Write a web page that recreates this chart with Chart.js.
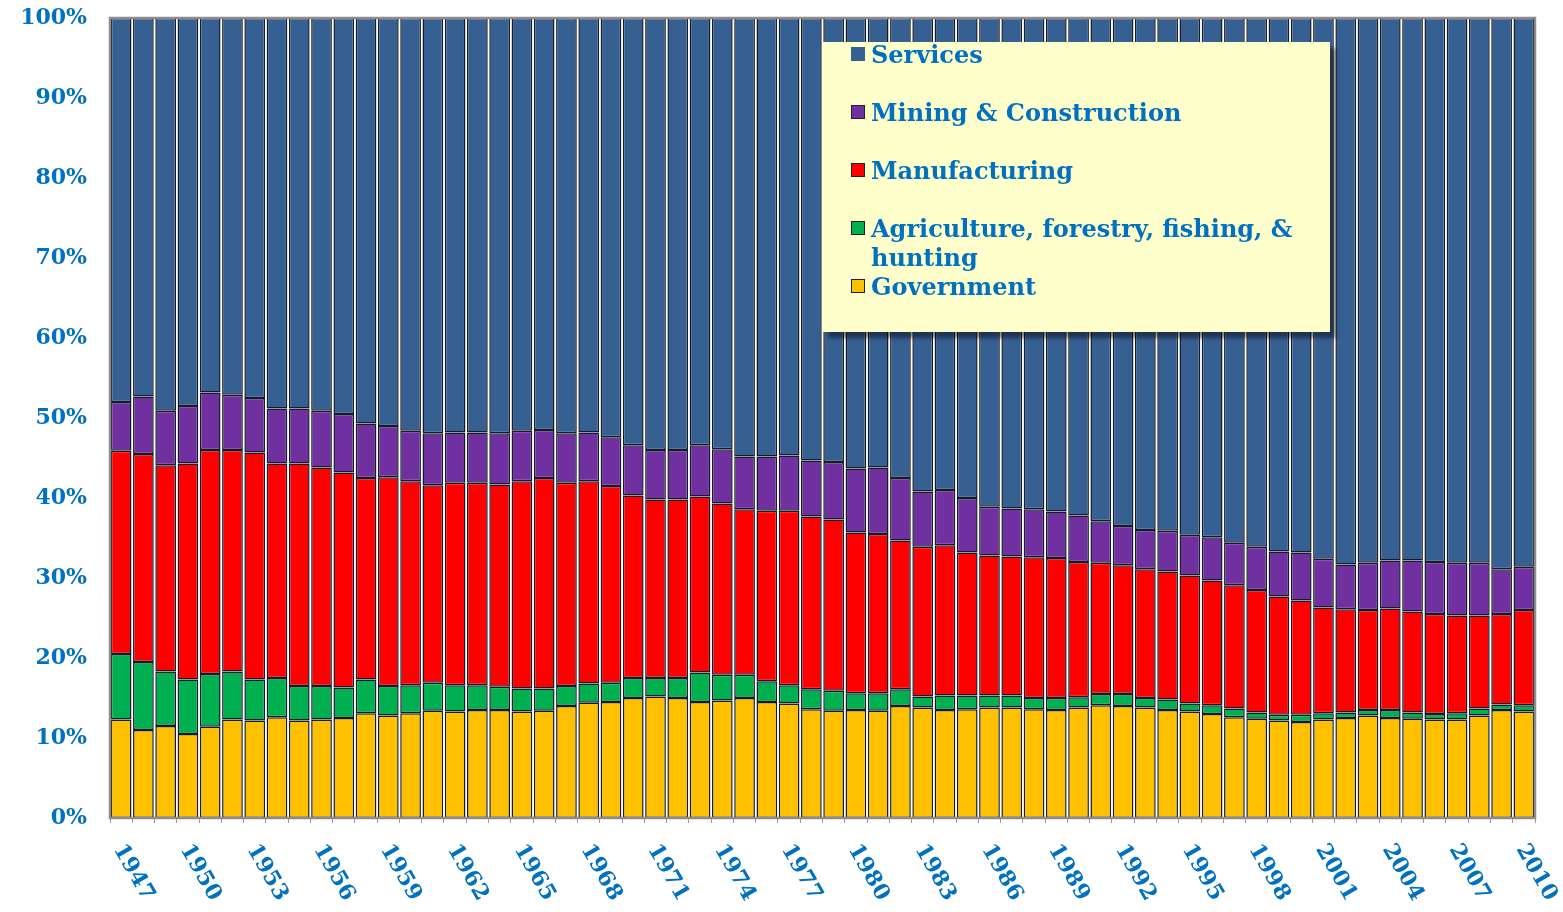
<!DOCTYPE html>
<html>
<head>
<meta charset="utf-8">
<script src="https://cdn.jsdelivr.net/npm/chart.js@4"></script>
<style>
body { margin: 0; background: #fff; }
#wrap { position: relative; width: 1563px; height: 912px; }
#legendBox {
    position: absolute; left: 822px; top: 42px; width: 508px; height: 290px;
    background: #FFFFCC; box-shadow: 6px 6px 4px rgba(0, 0, 0, 0.45);
    font: bold 24px 'DejaVu Serif', serif; color: #0070C0; line-height: 29px;
}
.item { position: absolute; left: 49px; white-space: nowrap; }
.mark { position: absolute; left: -20px; top: 7px; width: 12px; height: 12px; border: 1px solid #222; }
</style>
</head>
<body>
<div id="wrap">
    <canvas id="myChart" width="1563" height="912"></canvas>
    <div id="legendBox"></div>
</div>
<script>
const years = ['1947','1948','1949','1950','1951','1952','1953','1954','1955','1956',
    '1957','1958','1959','1960','1961','1962','1963','1964','1965','1966',
    '1967','1968','1969','1970','1971','1972','1973','1974','1975','1976',
    '1977','1978','1979','1980','1981','1982','1983','1984','1985','1986',
    '1987','1988','1989','1990','1991','1992','1993','1994','1995','1996',
    '1997','1998','1999','2000','2001','2002','2003','2004','2005','2006',
    '2007','2008','2009','2010'];

const xTickLabels = ['1947','1950','1953','1956','1959','1962','1965','1968','1971','1974','1977',
    '1980','1983','1986','1989','1992','1995','1998','2001','2004','2007','2010'];
const yTicks = [0, 10, 20, 30, 40, 50, 60, 70, 80, 90, 100];

// shares of GDP, %
const government = [12.3, 11.0, 11.5, 10.5, 11.4, 12.3, 12.2, 12.6, 12.2, 12.3,
    12.5, 13.1, 12.8, 13.1, 13.4, 13.3, 13.5, 13.5, 13.3, 13.4,
    14.0, 14.4, 14.5, 15.0, 15.2, 15.0, 14.5, 14.7, 15.0, 14.5,
    14.3, 13.6, 13.4, 13.5, 13.4, 14.0, 13.8, 13.5, 13.6, 13.8,
    13.8, 13.6, 13.5, 13.8, 14.1, 14.0, 13.8, 13.5, 13.3, 13.0,
    12.6, 12.4, 12.2, 12.0, 12.3, 12.5, 12.8, 12.5, 12.4, 12.3,
    12.3, 12.8, 13.5, 13.3];
const agriculture = [8.2, 8.5, 6.8, 6.8, 6.6, 6.0, 5.1, 4.9, 4.3, 4.2,
    3.8, 4.2, 3.7, 3.5, 3.5, 3.3, 3.1, 2.9, 2.9, 2.8,
    2.5, 2.4, 2.4, 2.5, 2.3, 2.5, 3.7, 3.2, 2.9, 2.6,
    2.3, 2.5, 2.5, 2.1, 2.2, 2.1, 1.4, 1.8, 1.7, 1.5,
    1.5, 1.4, 1.5, 1.3, 1.4, 1.5, 1.2, 1.3, 1.0, 1.1,
    1.1, 0.8, 0.7, 0.9, 0.8, 0.7, 0.7, 1.0, 0.8, 0.7,
    0.8, 0.9, 0.7, 0.8];
const manufacturing = [25.4, 26.0, 25.8, 27.0, 28.0, 27.7, 28.4, 26.8, 27.8, 27.3,
    26.9, 25.2, 26.1, 25.5, 24.7, 25.3, 25.3, 25.3, 25.9, 26.3,
    25.4, 25.3, 24.6, 22.8, 22.3, 22.3, 22.0, 21.4, 20.7, 21.3,
    21.8, 21.6, 21.4, 20.1, 19.9, 18.6, 18.7, 18.8, 17.9, 17.5,
    17.4, 17.6, 17.5, 16.9, 16.4, 16.1, 16.1, 16.0, 16.0, 15.6,
    15.4, 15.3, 14.8, 14.3, 13.2, 12.9, 12.5, 12.7, 12.6, 12.5,
    12.2, 11.6, 11.3, 11.9];
const mining = [6.1, 7.2, 6.8, 7.2, 7.2, 6.9, 6.8, 6.9, 6.9, 7.1,
    7.3, 6.8, 6.4, 6.3, 6.5, 6.3, 6.3, 6.4, 6.3, 6.0,
    6.2, 6.1, 6.1, 6.3, 6.2, 6.2, 6.4, 6.8, 6.6, 6.8,
    6.9, 7.0, 7.2, 8.0, 8.3, 7.8, 6.9, 6.9, 6.8, 6.1,
    6.0, 6.0, 5.8, 5.8, 5.2, 4.9, 4.9, 5.1, 5.1, 5.4,
    5.3, 5.4, 5.6, 6.0, 6.1, 5.6, 5.9, 6.0, 6.4, 6.5,
    6.6, 6.6, 5.6, 5.4];
const services = [48.0, 47.3, 49.1, 48.5, 46.8, 47.1, 47.5, 48.8, 48.8, 49.1,
    49.5, 50.7, 51.0, 51.6, 51.9, 51.8, 51.8, 51.9, 51.6, 51.5,
    51.9, 51.8, 52.4, 53.4, 54.0, 54.0, 53.4, 53.9, 54.8, 54.8,
    54.7, 55.3, 55.5, 56.3, 56.2, 57.5, 59.2, 59.0, 60.0, 61.1,
    61.3, 61.4, 61.7, 62.2, 62.9, 63.5, 64.0, 64.1, 64.6, 64.9,
    65.6, 66.1, 66.7, 66.8, 67.6, 68.3, 68.1, 67.8, 67.8, 68.0,
    68.1, 68.1, 68.9, 68.6];

const seriesNames = ['Government', 'Agriculture, forestry, fishing, &\nhunting', 'Manufacturing', 'Mining & Construction', 'Services'];
const seriesColors = ['#FFC000', '#00B050', '#FF0000', '#7030A0', '#376092'];
const seriesData = [government, agriculture, manufacturing, mining, services];

const blue = '#0070C0';
const tickFont = "bold 22px 'DejaVu Serif', serif";

let datasets = seriesData.map(function (d, i) {
    return {
        label: seriesNames[i],
        data: d,
        backgroundColor: seriesColors[i],
        borderColor: '#141b29',
        borderWidth: 1.5,
        borderSkipped: false,
        barPercentage: 1,
        categoryPercentage: 0.93
    };
});

// frame round the plot, % labels and the slanted year labels
const extras = {
    id: 'extras',
    afterDatasetsDraw(chart) {
        const ctx = chart.ctx, a = chart.chartArea;
        ctx.save();
        ctx.strokeStyle = '#8c8c8c';
        ctx.lineWidth = 2.5;
        ctx.strokeRect(a.left, a.top, a.right - a.left, a.bottom - a.top);
        ctx.restore();
    },
    afterDraw(chart) {
        const ctx = chart.ctx, x = chart.scales.x, y = chart.scales.y;
        ctx.save();
        ctx.font = tickFont;
        ctx.fillStyle = blue;

        ctx.textAlign = 'right';
        ctx.textBaseline = 'middle';
        yTicks.forEach(function (v) {
            ctx.fillText(v + '%', 87, y.getPixelForValue(v));
        });

        ctx.textAlign = 'left';
        xTickLabels.forEach(function (lbl) {
            const px = x.getPixelForValue(years.indexOf(lbl));
            ctx.save();
            ctx.translate(px - 3, 846);
            ctx.rotate(60 * Math.PI / 180);
            ctx.fillText(lbl, 0, 0);
            ctx.restore();
        });
        ctx.restore();
    }
};

let ctx = document.getElementById('myChart');
let myChart = new Chart(ctx, {
    type: 'bar',
    data: { labels: years, datasets: datasets },
    options: {
        responsive: false,
        animation: false,
        layout: { padding: { top: 18, right: 28, bottom: 89, left: 0 } },
        plugins: {
            legend: { display: false },
            tooltip: { enabled: false }
        },
        scales: {
            x: {
                stacked: true,
                ticks: { display: false },
                grid: { display: true, drawOnChartArea: false, drawTicks: true, tickLength: 5, offset: true, color: '#999' },
                border: { display: false }
            },
            y: {
                stacked: true,
                min: 0,
                max: 100,
                ticks: { display: false, stepSize: 10 },
                grid: { display: false },
                border: { display: false },
                afterFit: function (scale) { scale.width = 110; }
            }
        }
    },
    plugins: [extras]
});

// legend box, drawn top-down like the original
const legendBox = document.getElementById('legendBox');
for (let i = seriesNames.length - 1, row = 0; i >= 0; i--, row++) {
    const item = document.createElement('div');
    item.className = 'item';
    item.style.top = (-2 + row * 58) + 'px';
    const mark = document.createElement('span');
    mark.className = 'mark';
    mark.style.background = seriesColors[i];
    if (i === 4) mark.style.borderColor = seriesColors[i];
    item.appendChild(mark);
    const parts = seriesNames[i].split('\n');
    parts.forEach(function (p, k) {
        if (k > 0) item.appendChild(document.createElement('br'));
        item.appendChild(document.createTextNode(p));
    });
    legendBox.appendChild(item);
}
</script>
</body>
</html>
